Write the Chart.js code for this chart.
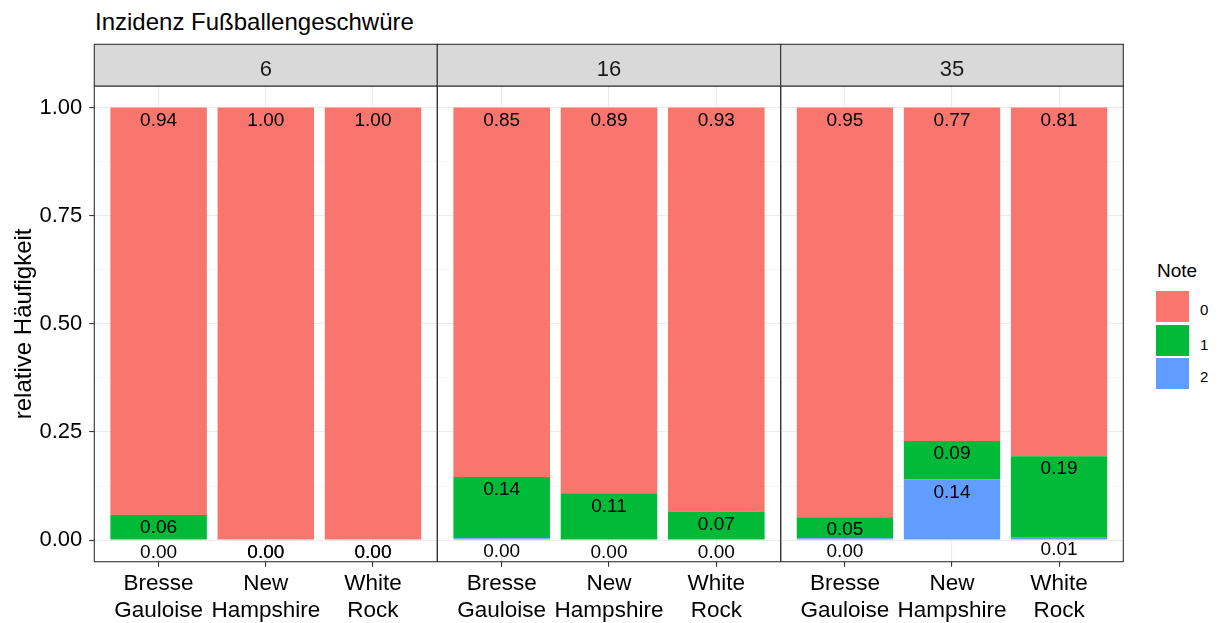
<!DOCTYPE html>
<html><head><meta charset="utf-8">
<script src="https://cdn.jsdelivr.net/npm/chart.js@4.4.1/dist/chart.umd.min.js"></script>
<style>
html,body{margin:0;padding:0;background:#fff;width:1223px;height:623px;overflow:hidden;font-family:"Liberation Sans",Arial,sans-serif;}
canvas{position:absolute;}
.t{position:absolute;line-height:1;white-space:nowrap;color:#000;}
.key{position:absolute;width:33px;}
</style></head><body>
<div class="t" style="left:95px;top:9.7px;font-size:24px;">Inzidenz Fußballengeschwüre</div>
<div id="legend"></div>
<canvas id="c0"></canvas><canvas id="c1"></canvas><canvas id="c2"></canvas>
<script>
// ---- data ----
const facets = ['6', '16', '35'];
const breeds = ['Bresse Gauloise', 'New Hampshire', 'White Rock'];
const breedLines = [['Bresse', 'Gauloise'], ['New', 'Hampshire'], ['White', 'Rock']];
const noteLevels = ['0', '1', '2'];
const yTicks = [0, 0.25, 0.5, 0.75, 1];
const yTitle = 'relative Häufigkeit';
const legendTitle = 'Note';

const note0_6 = [0.942, 1.000, 1.000];
const note1_6 = [0.058, 0.000, 0.000];
const note2_6 = [0.000, 0.000, 0.000];

const note0_16 = [0.854, 0.892, 0.934];
const note1_16 = [0.142, 0.108, 0.066];
const note2_16 = [0.004, 0.000, 0.000];

const note0_35 = [0.947, 0.771, 0.806];
const note1_35 = [0.049, 0.089, 0.187];
const note2_35 = [0.004, 0.140, 0.007];

const noteColors = {'0': '#F8766D', '1': '#00BA38', '2': '#619CFF'};

// ---- layout ----
const series = [[note0_6, note1_6, note2_6], [note0_16, note1_16, note2_16], [note0_35, note1_35, note2_35]];
const PX = [94.3, 437.3, 780.7, 1123.3];
const TOP = 86, BOTTOM = 561.7, CANVAS_TOP = 40, CANVAS_H = 583;
const fam = '"Liberation Sans", Arial, sans-serif';
Chart.defaults.font.family = fam;
Chart.defaults.color = '#000';

const gridValues = [];
for (let k = 0; k < yTicks.length; k++) {
  gridValues.push(yTicks[k]);
  if (k < yTicks.length - 1) gridValues.push((yTicks[k] + yTicks[k + 1]) / 2);
}
const isMajor = v => yTicks.some(t => Math.abs(t - v) < 1e-9);

// legend
(function () {
  const lg = document.getElementById('legend');
  let html = '<div class="t" style="left:1157px;top:260.6px;font-size:19px;">' + legendTitle + '</div>';
  const keyTops = [291, 324.7, 358.3];
  const labTops = [302.3, 336.6, 369.2];
  noteLevels.forEach((lvl, k) => {
    html += '<div class="key" style="left:1156px;top:' + keyTops[k] + 'px;height:31.2px;background:' + noteColors[lvl] + '"></div>';
    html += '<div class="t" style="left:1200px;top:' + labTops[k] + 'px;font-size:15px;">' + lvl + '</div>';
  });
  lg.innerHTML = html;
})();

const valueLabels = {
  id: 'valueLabels',
  afterDatasetsDraw(chart) {
    const ctx = chart.ctx;
    ctx.save();
    ctx.font = '19px ' + fam;
    ctx.fillStyle = '#000';
    ctx.textAlign = 'center';
    ctx.textBaseline = 'alphabetic';
    chart.data.datasets.forEach((ds, i) => {
      const meta = chart.getDatasetMeta(i);
      meta.data.forEach((el, j) => {
        const v = ds.data[j].y;
        ctx.fillText(v.toFixed(2), el.x, el.y + 18.3);
      });
    });
    ctx.restore();
  }
};

const panelFrame = {
  id: 'panelFrame',
  afterDraw(chart, args, opts) {
    const {ctx, chartArea: a} = chart;
    ctx.save();
    ctx.strokeStyle = '#333';
    ctx.lineWidth = 1.1;
    ctx.strokeRect(a.left, a.top, a.right - a.left, a.bottom - a.top);
    const sTop = 44.3 - CANVAS_TOP;
    ctx.fillStyle = '#D9D9D9';
    ctx.fillRect(a.left, sTop, a.right - a.left, a.top - sTop);
    ctx.strokeRect(a.left, sTop, a.right - a.left, a.top - sTop);
    ctx.fillStyle = '#1A1A1A';
    ctx.font = '22px ' + fam;
    ctx.textAlign = 'center';
    ctx.textBaseline = 'alphabetic';
    ctx.fillText(opts.label, (a.left + a.right) / 2, 76 - CANVAS_TOP);
    ctx.restore();
  }
};

function makePanel(i) {
  const canvas = document.getElementById('c' + i);
  const left = i === 0 ? 0 : Math.floor(PX[i]) - 5;
  const right = Math.ceil(PX[i + 1]) + 5;
  const w = right - left;
  canvas.width = w; canvas.height = CANVAS_H;
  canvas.style.left = left + 'px'; canvas.style.top = CANVAS_TOP + 'px';
  canvas.style.width = w + 'px'; canvas.style.height = CANVAS_H + 'px';
  const [n0, n1, n2] = series[i];
  const ds = (vals, lvl) => ({
    label: lvl,
    data: vals.map((v, k) => ({x: k + 1, y: v})),
    backgroundColor: noteColors[lvl],
    borderWidth: 0,
    barPercentage: 0.9,
    categoryPercentage: 1.0,
    stack: 's'
  });
  new Chart(canvas, {
    type: 'bar',
    data: {datasets: [ds(n2, '2'), ds(n1, '1'), ds(n0, '0')]},
    options: {
      responsive: false, animation: false, devicePixelRatio: 1,
      layout: {padding: {left: i === 0 ? 0 : PX[i] - left, right: right - PX[i + 1], top: TOP - CANVAS_TOP, bottom: 0}},
      plugins: {legend: {display: false}, tooltip: {enabled: false}, panelFrame: {label: facets[i]}},
      scales: {
        x: {
          type: 'linear', stacked: true, min: 0.4, max: 3.6, offset: false,
          afterBuildTicks: s => { s.ticks = breeds.map((b, k) => ({value: k + 1})); },
          afterFit: s => { s.height = CANVAS_TOP + CANVAS_H - BOTTOM; },
          grid: {offset: false, color: '#EBEBEB', lineWidth: 1.1, tickColor: '#333', tickLength: 5, tickWidth: 1.1},
          border: {display: false},
          ticks: {autoSkip: false, maxRotation: 0, minRotation: 0, padding: 4.3, color: '#000',
                  font: {size: 22.5, lineHeight: 1.17}, callback: v => breedLines[Math.round(v) - 1]}
        },
        y: {
          stacked: true, min: -0.05, max: 1.05,
          afterBuildTicks: s => { s.ticks = gridValues.map(v => ({value: v})); },
          afterFit: s => { s.width = i === 0 ? PX[0] : 0; },
          grid: {color: '#EBEBEB', lineWidth: c => isMajor(c.tick.value) ? 1.1 : 0.55,
                 tickColor: c => isMajor(c.tick.value) ? '#333' : 'rgba(0,0,0,0)',
                 tickLength: 5, tickWidth: 1.1, drawTicks: i === 0},
          border: {display: false},
          ticks: {display: i === 0, padding: 7, color: '#000', font: {size: 22},
                  callback: v => isMajor(v) ? v.toFixed(2) : ''},
          title: {display: i === 0, text: yTitle, color: '#000', font: {size: 24}, padding: {top: 10, bottom: 0}}
        }
      }
    },
    plugins: [valueLabels, panelFrame]
  });
}
[0, 1, 2].forEach(makePanel);
</script>
</body></html>
